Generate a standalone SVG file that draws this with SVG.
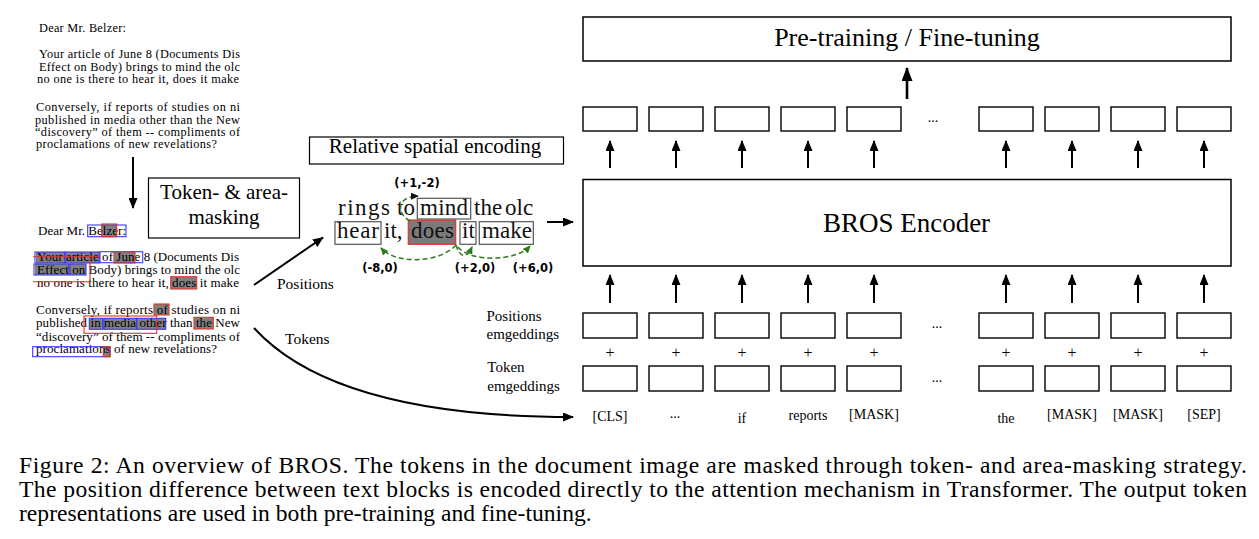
<svg xmlns="http://www.w3.org/2000/svg" width="1259" height="539" viewBox="0 0 1259 539">
<style>
.serif{font-family:"Liberation Serif","Times New Roman",serif;fill:#000}
.box{fill:#fff;stroke:#000;stroke-width:1.5}
.ebox{fill:#fff;stroke:#000;stroke-width:1.4}
.arr{stroke:#000;stroke-width:2;fill:none;marker-end:url(#ah)}
.doc{font-family:"Liberation Serif","Times New Roman",serif;font-size:13px;fill:#000}
.doc1{font-family:"Liberation Serif","Times New Roman",serif;font-size:12.3px;fill:#000}
.gray{fill:#808080}
.blue{fill:none;stroke:#3a3aff;stroke-width:1.1}
.red{fill:none;stroke:#e8302a;stroke-width:1.1}
.wbox{fill:none;stroke:#555;stroke-width:1.2}
.crop{font-family:"Liberation Serif","Times New Roman",serif;font-size:23px;fill:#111}
.gdash{fill:none;stroke:#2f7a1f;stroke-width:1.5;stroke-dasharray:5 3;marker-end:url(#gh)}
.coord{font-family:"DejaVu Sans",Verdana,sans-serif;font-weight:bold;font-size:11.5px;fill:#000;text-anchor:middle}
.lbl{font-family:"Liberation Serif","Times New Roman",serif;font-size:14px;fill:#000;text-anchor:middle}
.side{font-family:"Liberation Serif","Times New Roman",serif;font-size:15px;fill:#000}
.plus{font-family:"Liberation Serif","Times New Roman",serif;font-size:16px;fill:#000;text-anchor:middle}
.cap{font-family:"Liberation Serif","Times New Roman",serif;font-size:23.6px;fill:#000}
</style>
<defs>
<marker id="ah" markerUnits="userSpaceOnUse" markerWidth="11" markerHeight="9" refX="10" refY="4.5" orient="auto" viewBox="0 0 11 9"><path d="M0,0 L11,4.5 L0,9 z" fill="#000"/></marker>
<marker id="ahb" markerUnits="userSpaceOnUse" markerWidth="14" markerHeight="11" refX="13" refY="5.5" orient="auto" viewBox="0 0 14 11"><path d="M0,0 L14,5.5 L0,11 z" fill="#000"/></marker>
<marker id="gh" markerUnits="userSpaceOnUse" markerWidth="8" markerHeight="7" refX="7" refY="3.5" orient="auto" viewBox="0 0 8 7"><path d="M0,0 L8,3.5 L0,7 z" fill="#2f7a1f"/></marker>
<marker id="kh" markerUnits="userSpaceOnUse" markerWidth="8" markerHeight="7" refX="7" refY="3.5" orient="auto" viewBox="0 0 8 7"><path d="M0,0 L8,3.5 L0,7 z" fill="#111"/></marker>
<clipPath id="docclip"><rect x="0" y="0" width="240" height="539"/></clipPath>
<clipPath id="cropclip"><rect x="333" y="192" width="205" height="56"/></clipPath>
</defs>
<rect width="1259" height="539" fill="#fff"/>

<g id="doc-original" clip-path="url(#docclip)">
<text class="doc1" x="39" y="31.7" textLength="87">Dear Mr. Belzer:</text>
<text class="doc1" x="39" y="58.3" textLength="201">Your article of June 8 (Documents Dis</text>
<text class="doc1" x="39" y="71" textLength="201">Effect on Body) brings to mind the olc</text>
<text class="doc1" x="37" y="83.3" textLength="202">no one is there to hear it, does it make</text>
<text class="doc1" x="36" y="111" textLength="204">Conversely, if reports of studies on ni</text>
<text class="doc1" x="35" y="123.7" textLength="205">published in media other than the New</text>
<text class="doc1" x="35" y="136" textLength="205">“discovery” of them -- compliments of</text>
<text class="doc1" x="36" y="148.3" textLength="181">proclamations of new revelations?</text>
</g>

<g id="doc-masked">
<g id="mask-fills">
<rect class="gray" x="101.7" y="224.5" width="15" height="12"/>
<rect class="gray" x="36" y="252" width="63" height="11"/>
<rect class="gray" x="114" y="251.7" width="21" height="11.3"/>
<rect class="gray" x="35" y="264" width="51" height="11"/>
<rect class="gray" x="170.7" y="276.7" width="26" height="12.3"/>
<rect class="gray" x="154" y="304" width="15" height="11"/>
<rect class="gray" x="89" y="318.3" width="77" height="11"/>
<rect class="gray" x="194" y="317.3" width="19.3" height="11.7"/>
<rect class="gray" x="103.3" y="346.7" width="6.7" height="10"/>
</g>
<g clip-path="url(#docclip)">
<text class="doc" x="38" y="235" textLength="88">Dear Mr. Belzer:</text>
<text class="doc" x="37" y="260.7" textLength="202">Your article of June 8 (Documents Dis</text>
<text class="doc" x="37" y="274" textLength="203">Effect on Body) brings to mind the olc</text>
<text class="doc" x="37" y="287.3" textLength="202">no one is there to hear it, does it make</text>
<text class="doc" x="36" y="314" textLength="204">Conversely, if reports of studies on ni</text>
<text class="doc" x="36" y="327.3" textLength="204">published in media other than the New</text>
<text class="doc" x="36" y="340.7" textLength="204">“discovery” of them -- compliments of</text>
<text class="doc" x="36" y="353.3" textLength="181">proclamations of new revelations?</text>
</g>
<g id="mask-outlines">
<rect class="blue" x="87.7" y="225" width="38.3" height="11.7"/>
<rect class="blue" x="35" y="252" width="30" height="11"/>
<rect class="blue" x="65" y="252" width="34.3" height="11"/>
<rect class="blue" x="100" y="251.7" width="42.7" height="11"/>
<rect class="blue" x="34" y="264" width="35" height="11"/>
<rect class="blue" x="70" y="264" width="16" height="11"/>
<rect class="blue" x="89.3" y="318.3" width="13.4" height="11"/>
<rect class="blue" x="104" y="318.3" width="32.7" height="11"/>
<rect class="blue" x="136.7" y="318.3" width="29" height="11"/>
<rect class="blue" x="32.7" y="346.7" width="77.3" height="10"/>
<rect class="red" x="101.7" y="224" width="15" height="12.7"/>
<rect class="red" x="114" y="251.7" width="21" height="11.3"/>
<rect class="red" x="170.7" y="276.7" width="26" height="12.3"/>
<rect class="red" x="154" y="304" width="15" height="11"/>
<rect class="red" x="194" y="317.3" width="19.3" height="11.7"/>
<rect class="red" x="103.3" y="346.7" width="6.7" height="10"/>
<path class="red" d="M33,256.7 H100 M90,256.7 V281.7 H33"/>
<rect class="red" x="84" y="316" width="72.7" height="17.3"/>
</g>
</g>

<g id="masking-box">
<rect x="148.5" y="178" width="151" height="60" fill="#fff" stroke="#000" stroke-width="1.2"/>
<text class="serif" x="224" y="199.3" font-size="21" text-anchor="middle">Token- &amp; area-</text>
<text class="serif" x="224" y="224" font-size="21" text-anchor="middle">masking</text>
</g>

<g id="rse-box">
<rect x="309.5" y="137" width="254" height="27" fill="#fff" stroke="#000" stroke-width="1.2"/>
<text class="serif" x="435" y="153.3" font-size="21" text-anchor="middle">Relative spatial encoding</text>
</g>

<g id="crop">
<g clip-path="url(#cropclip)">
<rect class="wbox" x="417.3" y="198.3" width="53.4" height="20.7" fill="#fff"/>
<rect x="408.3" y="220" width="47.4" height="24.3" fill="#7a7a7a" stroke="#e8302a" stroke-width="1.2"/>
<rect class="wbox" x="335" y="221.7" width="46" height="22.6"/>
<rect class="wbox" x="460" y="221.7" width="16" height="22.6"/>
<rect class="wbox" x="479.3" y="221.7" width="54" height="22.6"/>
<text class="crop" x="338" y="215" textLength="52">rings</text>
<text class="crop" x="397" y="215">to</text>
<text class="crop" x="420" y="215" textLength="48">mind</text>
<text class="crop" x="474" y="215">the</text>
<text class="crop" x="505" y="215">olc</text>
<text class="crop" x="337" y="238.3" textLength="42">hear</text>
<text class="crop" x="384" y="238.3">it,</text>
<text class="crop" x="411" y="238.3" textLength="43">does</text>
<text class="crop" x="462" y="238.3">it</text>
<text class="crop" x="482" y="238.3" textLength="50">make</text>
</g>
<path d="M410,221 C397,214 395,197 418,196" fill="none" stroke="#2f7a1f" stroke-width="1.5" stroke-dasharray="5 3" marker-end="url(#kh)"/>
<path class="gdash" d="M456,245 C440,263 396,265 381,248"/>
<path class="gdash" d="M456,245 C460,259 467,258 472,247"/>
<path class="gdash" d="M458,247 C470,262 516,262 530,246"/>
<text class="coord" x="417" y="187">(+1,-2)</text>
<text class="coord" x="380" y="272">(-8,0)</text>
<text class="coord" x="475" y="272">(+2,0)</text>
<text class="coord" x="533" y="272">(+6,0)</text>
</g>

<g id="label-positions"><text class="serif" x="277" y="289.3" font-size="15.5">Positions</text></g>
<g id="label-tokens"><text class="serif" x="285" y="344" font-size="15.5">Tokens</text></g>

<g id="top-box">
<rect class="box" x="583" y="17" width="648" height="44"/>
<text class="serif" x="907" y="46" font-size="26" text-anchor="middle">Pre-training / Fine-tuning</text>
</g>

<g id="output-boxes">
<rect class="ebox" x="583" y="107" width="54" height="24"/>
<rect class="ebox" x="649" y="107" width="54" height="24"/>
<rect class="ebox" x="715" y="107" width="54" height="24"/>
<rect class="ebox" x="781" y="107" width="54" height="24"/>
<rect class="ebox" x="847" y="107" width="54" height="24"/>
<text class="lbl" x="933" y="122" font-size="12">...</text>
<rect class="ebox" x="979" y="107" width="54" height="24"/>
<rect class="ebox" x="1045" y="107" width="54" height="24"/>
<rect class="ebox" x="1111" y="107" width="54" height="24"/>
<rect class="ebox" x="1177" y="107" width="54" height="24"/>
</g>

<g id="encoder">
<rect class="box" x="583" y="179.5" width="648" height="86.5"/>
<text class="serif" x="906.5" y="231.7" font-size="27" text-anchor="middle">BROS Encoder</text>
</g>

<g id="position-embeddings">
<text class="side" x="486.5" y="320.7">Positions</text>
<text class="side" x="486.5" y="339.3">emgeddings</text>
<rect class="ebox" x="583" y="313" width="54" height="25"/>
<rect class="ebox" x="649" y="313" width="54" height="25"/>
<rect class="ebox" x="715" y="313" width="54" height="25"/>
<rect class="ebox" x="781" y="313" width="54" height="25"/>
<rect class="ebox" x="847" y="313" width="54" height="25"/>
<text class="lbl" x="937" y="328" font-size="12">...</text>
<rect class="ebox" x="979" y="313" width="54" height="25"/>
<rect class="ebox" x="1045" y="313" width="54" height="25"/>
<rect class="ebox" x="1111" y="313" width="54" height="25"/>
<rect class="ebox" x="1177" y="313" width="54" height="25"/>
</g>

<g id="plus-signs">
<text class="plus" x="610" y="358">+</text>
<text class="plus" x="676" y="358">+</text>
<text class="plus" x="742" y="358">+</text>
<text class="plus" x="808" y="358">+</text>
<text class="plus" x="874" y="358">+</text>
<text class="plus" x="1006" y="358">+</text>
<text class="plus" x="1072" y="358">+</text>
<text class="plus" x="1138" y="358">+</text>
<text class="plus" x="1204" y="358">+</text>
</g>

<g id="token-embeddings">
<text class="side" x="487.3" y="371.7">Token</text>
<text class="side" x="487.3" y="390.7">emgeddings</text>
<rect class="ebox" x="583" y="366" width="54" height="25"/>
<rect class="ebox" x="649" y="366" width="54" height="25"/>
<rect class="ebox" x="715" y="366" width="54" height="25"/>
<rect class="ebox" x="781" y="366" width="54" height="25"/>
<rect class="ebox" x="847" y="366" width="54" height="25"/>
<text class="lbl" x="937" y="382" font-size="12">...</text>
<rect class="ebox" x="979" y="366" width="54" height="25"/>
<rect class="ebox" x="1045" y="366" width="54" height="25"/>
<rect class="ebox" x="1111" y="366" width="54" height="25"/>
<rect class="ebox" x="1177" y="366" width="54" height="25"/>
</g>

<g id="token-labels">
<text class="lbl" x="610" y="420.7">[CLS]</text>
<text class="lbl" x="675" y="418" font-size="12">...</text>
<text class="lbl" x="742" y="423.3">if</text>
<text class="lbl" x="808" y="420">reports</text>
<text class="lbl" x="874" y="419">[MASK]</text>
<text class="lbl" x="1006" y="422.7">the</text>
<text class="lbl" x="1072" y="419">[MASK]</text>
<text class="lbl" x="1138" y="419">[MASK]</text>
<text class="lbl" x="1204" y="419">[SEP]</text>
</g>

<g id="connectors">
<line class="arr" x1="133" y1="157" x2="133" y2="208"/>
<line class="arr" x1="254" y1="285" x2="323" y2="237.5"/>
<path class="arr" d="M254,328 Q335,417 573,417"/>
<line class="arr" x1="547" y1="222" x2="573" y2="222"/>
<line x1="907" y1="99" x2="907" y2="68" stroke="#000" stroke-width="2.6" marker-end="url(#ahb)"/>
<line class="arr" x1="610" y1="168" x2="610" y2="141"/>
<line class="arr" x1="676" y1="168" x2="676" y2="141"/>
<line class="arr" x1="742" y1="168" x2="742" y2="141"/>
<line class="arr" x1="808" y1="168" x2="808" y2="141"/>
<line class="arr" x1="874" y1="168" x2="874" y2="141"/>
<line class="arr" x1="1006" y1="168" x2="1006" y2="141"/>
<line class="arr" x1="1072" y1="168" x2="1072" y2="141"/>
<line class="arr" x1="1138" y1="168" x2="1138" y2="141"/>
<line class="arr" x1="1204" y1="168" x2="1204" y2="141"/>
<line class="arr" x1="610" y1="303" x2="610" y2="275"/>
<line class="arr" x1="676" y1="303" x2="676" y2="275"/>
<line class="arr" x1="742" y1="303" x2="742" y2="275"/>
<line class="arr" x1="808" y1="303" x2="808" y2="275"/>
<line class="arr" x1="874" y1="303" x2="874" y2="275"/>
<line class="arr" x1="1006" y1="303" x2="1006" y2="275"/>
<line class="arr" x1="1072" y1="303" x2="1072" y2="275"/>
<line class="arr" x1="1138" y1="303" x2="1138" y2="275"/>
<line class="arr" x1="1204" y1="303" x2="1204" y2="275"/>
</g>

<g id="caption">
<text class="cap" x="19" y="473" textLength="1228" lengthAdjust="spacing">Figure 2: An overview of BROS. The tokens in the document image are masked through token- and area-masking strategy.</text>
<text class="cap" x="19" y="497" textLength="1228" lengthAdjust="spacing">The position difference between text blocks is encoded directly to the attention mechanism in Transformer. The output token</text>
<text class="cap" x="19" y="521">representations are used in both pre-training and fine-tuning.</text>
</g>
</svg>
